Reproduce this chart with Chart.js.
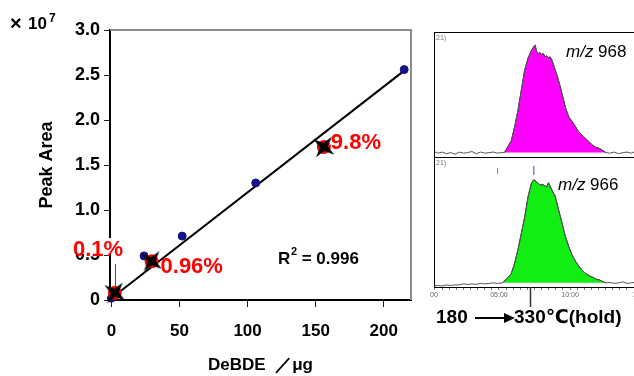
<!DOCTYPE html>
<html>
<head>
<meta charset="utf-8">
<script src="https://cdn.jsdelivr.net/npm/chart.js@4.4.0/dist/chart.umd.min.js"></script>
<style>
  html, body { margin: 0; padding: 0; background: #fff; overflow: hidden; width: 634px; height: 376px; }
  canvas { position: absolute; }
  #calib { left: 0; top: 0; }
  #ch968 { left: 426px; top: 31px; }
  #ch966 { left: 426px; top: 157px; }
</style>
</head>
<body>
<canvas id="calib" width="425" height="376"></canvas>
<canvas id="ch968" width="228" height="127"></canvas>
<canvas id="ch966" width="228" height="180"></canvas>
<script>
// calibration curve (peak area in units of 1e7)
const calAmount = [0, 24, 52, 106, 215];
const calArea = [0.02, 0.49, 0.71, 1.30, 2.56];
const spikeAmount = [2.5, 29.5, 156];
const spikeArea = [0.08, 0.43, 1.70];
const spikeLabels = ['0.1%', '0.96%', '9.8%'];
const fitAmount = [0, 216];
const fitArea = [0.02, 2.56];
const amountTicks = [0, 50, 100, 150, 200];
const areaTicks = [0, 0.5, 1.0, 1.5, 2.0, 2.5, 3.0];

// chromatograms (time in min, relative intensity)
const time968 = [0.43, 0.7, 1.0, 1.3, 1.6, 1.9, 2.2, 2.5, 2.8, 3.1, 3.4, 3.7, 4.0, 4.3, 4.6, 4.9, 5.2, 5.38,
  5.86, 6.10, 6.33, 6.57, 6.81, 7.05, 7.29, 7.53, 7.65, 7.76, 7.88, 8.00, 8.12, 8.24, 8.36, 8.48, 8.60, 8.72,
  8.95, 9.19, 9.43, 9.67, 9.91, 10.14, 10.38, 10.62, 10.86, 11.10, 11.33, 11.57, 11.81, 12.05, 12.29, 12.53,
  12.8, 13.1, 13.4, 13.7, 14.0, 14.3, 14.6, 14.9, 15.2, 15.5, 15.9];
const signal968 = [1, -0.5, 0.5, -1, 0, -1.5, 0.5, -0.5, 0, 1, -1, 0.5, -0.5, 0, 0.5, -0.5, 0, 0,
  11, 24, 39, 58, 77, 88, 95, 100, 94, 92, 93, 91, 92, 89, 90, 88, 89, 86,
  77, 67, 55, 42, 33, 29, 24, 19, 16, 13, 10, 7, 5, 4, 2, 0,
  -0.5, 0.5, -1, 0, 0.5, -0.5, 1, -1, 0, 0.5, -0.5];
const peak968 = [5.38, 12.53];

const time966 = [0.43, 0.7, 1.0, 1.3, 1.6, 1.9, 2.2, 2.5, 2.8, 3.1, 3.4, 3.7, 4.0, 4.3, 4.6, 4.9, 5.26,
  5.62, 5.86, 6.10, 6.33, 6.57, 6.81, 7.05, 7.29, 7.45, 7.64, 7.88, 8.12, 8.36, 8.48, 8.72, 8.95, 9.19,
  9.43, 9.67, 9.91, 10.14, 10.38, 10.62, 10.86, 11.10, 11.33, 11.57, 11.81, 12.05, 12.29, 12.53,
  12.8, 13.1, 13.4, 13.7, 14.0, 14.3, 14.6, 14.9, 15.2, 15.5, 15.9];
const signal966 = [-3, -2.5, -3, -2, -2.5, -2, -2, -1, -1.5, -1, -1.5, -0.5, -1, -0.5, 0, -0.5, 0,
  5, 9, 19, 32, 48, 64, 84, 97, 100, 98, 95, 95, 93, 97, 90, 84, 71,
  58, 45, 35, 27, 21, 16, 12, 9, 7, 5.5, 3.6, 3, 1.3, 0,
  0.5, -0.5, 0, 1, -0.5, 0, 0.5, -1, 0, 0.5, -0.5];
const peak966 = [5.26, 12.53];

const timeTicks = [0.43, 1, 1.5, 2, 2.5, 3, 3.5, 4, 4.5, 5, 5.5, 6, 6.5, 7, 7.5, 8, 8.5, 9, 9.5, 10,
  10.5, 11, 11.5, 12, 12.5, 13, 13.5, 14, 14.5, 15, 15.5];
const tempMarkTime = 7.2;

const FONT = 'Arial, "Liberation Sans", sans-serif';

function xy(xs, ys) {
  return xs.map((x, i) => ({ x: x, y: ys[i] }));
}

// four pointed star used for the spiked samples
function makeStar() {
  const c = document.createElement('canvas');
  c.width = 28; c.height = 28;
  const g = c.getContext('2d');
  g.translate(14, 14);
  g.rotate(0.65);
  g.beginPath();
  for (let i = 0; i < 8; i++) {
    const r = i % 2 === 0 ? 13 : 4;
    const a = i * Math.PI / 4;
    g.lineTo(Math.cos(a) * r, Math.sin(a) * r);
  }
  g.closePath();
  g.fillStyle = '#000';
  g.fill();
  return c;
}

const calibDeco = {
  id: 'calibDeco',
  afterDraw(chart) {
    const ctx = chart.ctx;
    const a = chart.chartArea;
    ctx.save();
    // grey frame top and right
    ctx.strokeStyle = '#8c8c8c';
    ctx.lineWidth = 2;
    ctx.beginPath();
    ctx.moveTo(a.left, a.top);
    ctx.lineTo(a.right, a.top);
    ctx.lineTo(a.right, a.bottom);
    ctx.stroke();

    // x10^7
    ctx.fillStyle = '#000';
    ctx.textBaseline = 'alphabetic';
    ctx.font = 'bold 20px ' + FONT;
    ctx.fillText('×', 10, 30);
    ctx.font = 'bold 17px ' + FONT;
    ctx.fillText('10', 28, 29);
    ctx.font = 'bold 12px ' + FONT;
    ctx.fillText('7', 49, 22);

    // R^2
    ctx.font = 'bold 17px ' + FONT;
    ctx.fillText('R', 278, 264);
    ctx.font = 'bold 11px ' + FONT;
    ctx.fillText('2', 291, 255);
    ctx.font = 'bold 17px ' + FONT;
    ctx.fillText(' = 0.996', 297, 264);

    // red labels
    const xs = chart.scales.x, ys = chart.scales.y;
    ctx.fillStyle = '#fff';
    ctx.fillRect(70, 238, 58, 16);
    ctx.strokeStyle = '#ff0000';
    ctx.lineWidth = 1;
    ctx.beginPath();
    ctx.moveTo(115.5, 264);
    ctx.lineTo(115.5, 286);
    ctx.stroke();
    ctx.fillStyle = '#ff0000';
    ctx.font = 'bold 22px ' + FONT;
    ctx.textBaseline = 'middle';
    ctx.fillText(spikeLabels[0], 73, 250);
    ctx.fillText(spikeLabels[1], xs.getPixelForValue(spikeAmount[1]) + 9, ys.getPixelForValue(spikeArea[1]) + 6);
    ctx.fillText(spikeLabels[2], xs.getPixelForValue(spikeAmount[2]) + 7, ys.getPixelForValue(spikeArea[2]) - 4);
    ctx.restore();
  }
};

new Chart(document.getElementById('calib'), {
  type: 'scatter',
  data: {
    datasets: [{
      data: xy(spikeAmount, spikeArea),
      pointStyle: makeStar(),
      pointRadius: 13,
      clip: false
    }, {
      data: xy(spikeAmount, spikeArea),
      pointRadius: 6.5,
      backgroundColor: '#ff0000',
      borderColor: '#ff0000',
      clip: false
    }, {
      data: xy(calAmount, calArea),
      pointRadius: 4,
      backgroundColor: '#141488',
      borderColor: '#141488',
      clip: false
    }, {
      type: 'line',
      data: xy(fitAmount, fitArea),
      borderColor: '#000',
      borderWidth: 2,
      pointRadius: 0,
      clip: false
    }]
  },
  options: {
    responsive: false,
    animation: false,
    layout: { padding: { top: 30, right: 13, left: 0, bottom: 0 } },
    plugins: { legend: { display: false }, tooltip: { enabled: false } },
    scales: {
      x: {
        type: 'linear',
        min: -1,
        max: 220,
        afterBuildTicks: s => { s.ticks = amountTicks.map(v => ({ value: v })); },
        afterFit: s => { s.height = 76; },
        grid: { drawOnChartArea: false, tickLength: 7, color: '#222' },
        border: { color: '#000', width: 2 },
        ticks: { color: '#000', padding: 14, font: { family: FONT, size: 17, weight: 'bold' } },
        title: {
          display: true,
          text: 'DeBDE  ／μg',
          color: '#000',
          padding: { top: 0, bottom: 0 },
          font: { family: FONT, size: 17, weight: 'bold' }
        }
      },
      y: {
        min: 0,
        max: 3.0,
        afterBuildTicks: s => { s.ticks = areaTicks.map(v => ({ value: v })); },
        afterFit: s => { s.width = 110; },
        grid: { drawOnChartArea: false, tickLength: 6, color: '#222' },
        border: { color: '#000', width: 2 },
        ticks: {
          color: '#000',
          padding: 4,
          font: { family: FONT, size: 18, weight: 'bold' },
          callback: v => v === 0 ? '0' : v.toFixed(1)
        },
        title: {
          display: true,
          text: 'Peak Area',
          color: '#000',
          padding: { top: 36, bottom: 0 },
          font: { family: FONT, size: 18, weight: 'bold' }
        }
      }
    }
  },
  plugins: [calibDeco]
});

function panelDeco(label, extra) {
  return {
    id: 'panelDeco',
    afterDraw(chart) {
      const ctx = chart.ctx;
      const a = chart.chartArea;
      ctx.save();
      ctx.strokeStyle = '#000';
      ctx.lineWidth = 1;
      ctx.strokeRect(a.left + 0.5, a.top + 0.5, a.right - a.left, a.bottom - a.top);
      ctx.fillStyle = '#777';
      ctx.font = '7px ' + FONT;
      ctx.textBaseline = 'top';
      ctx.fillText('21)', a.left + 2, a.top + 3);
      // ion label
      const lx = label.x - chart.canvas.offsetLeft;
      const ly = label.y - chart.canvas.offsetTop;
      ctx.fillStyle = '#000';
      ctx.textBaseline = 'middle';
      ctx.font = 'italic 17px ' + FONT;
      ctx.fillText('m/z', lx, ly);
      const w = ctx.measureText('m/z').width;
      ctx.font = '17px ' + FONT;
      ctx.fillText(' ' + label.text, lx + w, ly);
      if (extra) extra(chart, ctx);
      ctx.restore();
    }
  };
}

function traceDatasets(times, signal, window, fillColor) {
  const peakPart = times.map((t, i) => ({ x: t, y: (t >= window[0] && t <= window[1]) ? signal[i] : null }));
  return [{
    data: xy(times, signal),
    borderColor: '#555',
    borderWidth: 1,
    pointRadius: 0,
    fill: false
  }, {
    data: peakPart,
    borderColor: '#333',
    borderWidth: 1,
    pointRadius: 0,
    backgroundColor: fillColor,
    fill: { value: 0 }
  }];
}

new Chart(document.getElementById('ch968'), {
  type: 'line',
  data: { datasets: traceDatasets(time968, signal968, peak968, '#ff00ff') },
  options: {
    responsive: false,
    animation: false,
    layout: { padding: { top: 1, left: 8, right: 0, bottom: 0 } },
    plugins: { legend: { display: false }, tooltip: { enabled: false } },
    scales: {
      x: { type: 'linear', min: 0.43, max: 15.9, display: false },
      y: { min: -5, max: 112, display: false }
    }
  },
  plugins: [panelDeco({ x: 566, y: 52, text: '968' })]
});

new Chart(document.getElementById('ch966'), {
  type: 'line',
  data: { datasets: traceDatasets(time966, signal966, peak966, '#11ee11') },
  options: {
    responsive: false,
    animation: false,
    layout: { padding: { top: 0, left: 8, right: 0, bottom: 0 } },
    plugins: { legend: { display: false }, tooltip: { enabled: false } },
    scales: {
      x: {
        type: 'linear',
        min: 0.43,
        max: 15.9,
        afterBuildTicks: s => { s.ticks = timeTicks.map(v => ({ value: v })); },
        afterFit: s => { s.height = 50; },
        grid: { drawOnChartArea: false, tickLength: 3, color: '#777' },
        border: { color: '#000', width: 1 },
        ticks: {
          autoSkip: false,
          maxRotation: 0,
          padding: 1,
          color: '#666',
          font: { family: FONT, size: 7 },
          callback: v => v === 0.43 ? '00' : (v % 5 === 0 ? String(v).padStart(2, '0') + ':00' : '')
        }
      },
      y: { min: -4, max: 122, display: false }
    }
  },
  plugins: [panelDeco({ x: 558, y: 185, text: '966' }, (chart, ctx) => {
    const xs = chart.scales.x;
    const a = chart.chartArea;
    const ox = chart.canvas.offsetLeft, oy = chart.canvas.offsetTop;
    // small markers above the peak
    ctx.strokeStyle = '#888';
    ctx.beginPath();
    ctx.moveTo(xs.getPixelForValue(4.9), 168 - oy);
    ctx.lineTo(xs.getPixelForValue(4.9), 174 - oy);
    ctx.stroke();
    ctx.strokeStyle = '#3344cc';
    ctx.beginPath();
    ctx.moveTo(xs.getPixelForValue(7.45), 166 - oy);
    ctx.lineTo(xs.getPixelForValue(7.45), 175 - oy);
    ctx.stroke();
    // temperature program marker
    const mx = Math.round(xs.getPixelForValue(tempMarkTime)) + 0.5;
    ctx.strokeStyle = '#333';
    ctx.lineWidth = 1.5;
    ctx.beginPath();
    ctx.moveTo(mx, a.bottom);
    ctx.lineTo(mx, 307 - oy);
    ctx.stroke();
    // 180 -> 330 label
    const ty = 318 - oy;
    ctx.fillStyle = '#000';
    ctx.textBaseline = 'middle';
    ctx.font = 'bold 19px ' + FONT + ', "DejaVu Sans"';
    ctx.fillText('180', 436 - ox, ty);
    ctx.strokeStyle = '#000';
    ctx.lineWidth = 2;
    ctx.beginPath();
    ctx.moveTo(475 - ox, ty);
    ctx.lineTo(506 - ox, ty);
    ctx.stroke();
    ctx.beginPath();
    ctx.moveTo(504 - ox, ty - 5);
    ctx.lineTo(515 - ox, ty);
    ctx.lineTo(504 - ox, ty + 5);
    ctx.closePath();
    ctx.fill();
    ctx.fillText('330℃(hold)', 514 - ox, ty);
  })]
});
</script>
</body>
</html>
